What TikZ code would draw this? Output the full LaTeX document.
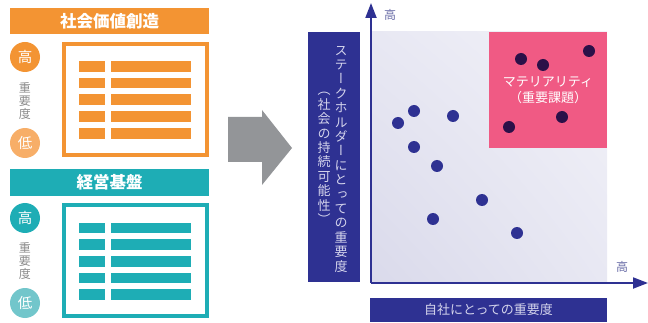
\documentclass[tikz,border=0pt]{standalone}
\usepackage{fontspec}
\setmainfont{Noto Sans CJK JP}
\newfontfamily\vjp[RawFeature=+vert]{Noto Sans CJK JP}
\usetikzlibrary{arrows.meta,shadings}
\definecolor{orng}{HTML}{F39433}
\definecolor{orngl}{HTML}{F7AE68}
\definecolor{teal}{HTML}{1EADB5}
\definecolor{teall}{HTML}{72C6CB}
\definecolor{navy}{HTML}{2E3192}
\definecolor{pinkm}{HTML}{F05A84}
\definecolor{dotdark}{HTML}{2B1048}
\definecolor{grayarrow}{HTML}{939598}
\definecolor{lavtext}{HTML}{D4D4EC}
\definecolor{axlabel}{HTML}{6B6EA8}
\definecolor{graytext}{HTML}{8A8A8A}
\definecolor{bgul}{HTML}{E8E8F3}
\definecolor{bgur}{HTML}{F2F2F8}
\definecolor{bgll}{HTML}{DADAEB}
\definecolor{bglr}{HTML}{E8E8F3}
\tikzset{
  header/.style={fill=#1, draw=none, text=white, font=\fontsize{16.5}{16.5}\selectfont\bfseries, inner sep=0pt},
  lvl/.style={circle, fill=#1, minimum size=30pt, inner sep=0pt, text=white, font=\fontsize{14.5}{14.5}\selectfont},
  vlab/.style={text=graytext, align=center, inner sep=0pt, font=\fontsize{12}{13}\selectfont},
  frame/.style={draw=#1, line width=4pt, fill=white},
  barbox/.style={fill=#1, draw=none},
  navybox/.style={fill=navy, draw=none},
  vtext/.style={text=lavtext, align=center, inner sep=0pt, font=\vjp\fontsize{13}{14.4}\selectfont},
  bdot/.style={circle, fill=navy, minimum size=12pt, inner sep=0pt},
  ddot/.style={circle, fill=dotdark, minimum size=12pt, inner sep=0pt},
  axis/.style={draw=navy, line width=2pt, -{Triangle[length=15pt,width=11pt]}},
  axl/.style={text=axlabel, font=\fontsize{12}{12}\selectfont, inner sep=0pt}
}
\begin{document}
\begin{tikzpicture}[x=1pt,y=-1pt]
\useasboundingbox (0,0) rectangle (648,323);
% ---- top left: social value
\node[header=orng, minimum width=199pt, minimum height=26pt] (h1) at (109.5,21) {社会価値創造};
\node[lvl=orng] (hi1) at (25,57) {高};
\node[vlab] (imp1) at (25,101) {重\\要\\度};
\node[lvl=orngl] (lo1) at (25,143) {低};
\draw[frame=orng] (64,44) rectangle (207,155);
\foreach \i in {0,...,4}{
  \fill[barbox=orng] (79,61+16.75*\i) rectangle (105,71.7+16.75*\i);
  \fill[barbox=orng] (111,61+16.75*\i) rectangle (191,71.7+16.75*\i);
}
% ---- bottom left: management base
\node[header=teal, minimum width=199pt, minimum height=27pt] (h2) at (109.5,182.5) {経営基盤};
\node[lvl=teal] (hi2) at (25,218) {高};
\node[vlab] (imp2) at (25,261) {重\\要\\度};
\node[lvl=teall] (lo2) at (25,303) {低};
\draw[frame=teal] (64,205) rectangle (207,316);
\foreach \i in {0,...,4}{
  \fill[barbox=teal] (79,222.7+16.6*\i) rectangle (105,233.4+16.6*\i);
  \fill[barbox=teal] (111,222.7+16.6*\i) rectangle (191,233.4+16.6*\i);
}
% ---- big arrow
\fill[grayarrow] (228,117) -- (262,117) -- (262,110) -- (292,148) -- (262,185) -- (262,162) -- (228,162) -- cycle;
% ---- right: matrix
\fill[navybox] (308,32) rectangle (360,282);
\node[vtext] (ylab1) at (341,159) {ス\\テ\\ー\\ク\\ホ\\ル\\ダ\\ー\\に\\と\\っ\\て\\の\\重\\要\\度};
\node[vtext] (ylab2) at (324,158.5) {（\\社\\会\\の\\持\\続\\可\\能\\性\\）};
\shade[upper left=bgul, upper right=bgur, lower left=bgll, lower right=bglr]
  (372,32) rectangle (607,282);
\fill[pinkm] (489,32) rectangle (607,148);
\node[text=white, align=center, font=\fontsize{13}{16}\selectfont, inner sep=0pt] (mat) at (548,90) {マテリアリティ\\（重要課題）};
\coordinate (org) at (371,283);
\coordinate (ytop) at (371,3);
\coordinate (xend) at (648,283);
\draw[axis] (org) -- (ytop);
\draw[axis] (org) -- (xend);
\node[axl] (yhi) at (390,15) {高};
\node[axl] (xhi) at (622,267) {高};
\fill[navybox] (370,298) rectangle (607,322);
\node[text=lavtext, font=\fontsize{13}{13}\selectfont, inner sep=0pt] (xlab) at (488.5,310) {自社にとっての重要度};
% dots
\node[ddot] (d1) at (521,59) {};
\node[ddot] (d2) at (543,65) {};
\node[ddot] (d3) at (589,51) {};
\node[ddot] (d4) at (509,127) {};
\node[ddot] (d5) at (562,117) {};
\node[bdot] (b1) at (398,123) {};
\node[bdot] (b2) at (414,111) {};
\node[bdot] (b3) at (453,116) {};
\node[bdot] (b4) at (414,147) {};
\node[bdot] (b5) at (437,166) {};
\node[bdot] (b6) at (482,200) {};
\node[bdot] (b7) at (433,219) {};
\node[bdot] (b8) at (517,233) {};
\end{tikzpicture}
\end{document}
